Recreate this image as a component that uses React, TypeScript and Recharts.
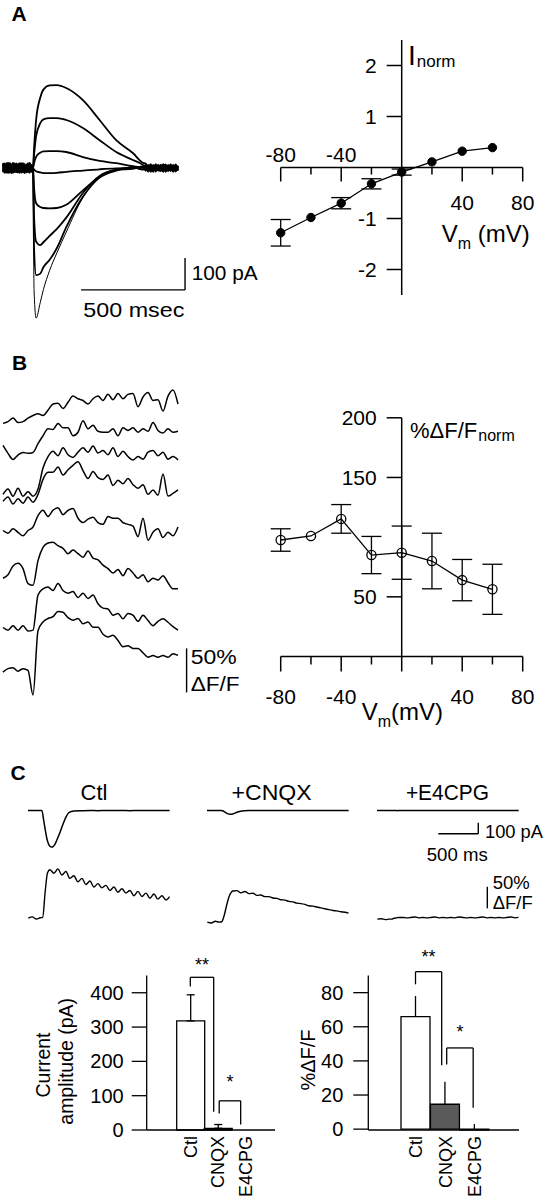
import React from 'react'
import { LineChart, Line, BarChart, Bar, Cell, XAxis, YAxis, ReferenceLine, ReferenceDot, ErrorBar } from 'recharts'

const FONT = '"Liberation Sans", Arial, Helvetica, sans-serif'
const INK = '#000'

// ---------- A: current traces (pA) at 8 holding potentials, time in ms from the stimulus
const tA = [-144,-136,-128,-120,-112,-104,-96,-88,-80,-72,-64,-56,-48,-40,-32,-24,-16,-8,0,
  5,15,35,50,80,115,160,240,320,400,480,530,
  542,554,566,578,590,602,614,626,638,650,662,674,686,697]
const iStep1 = [8,-12,15,-6,10,-16,4,-9,14,-11,6,-15,12,-4,9,-13,16,-7,0,
  60,150,220,245,258,259,250,212,150,87,47,16,
  14,2,12,-4,8,-6,10,-2,7,-9,6,-8,9,-3]
const iStep2 = [-10,14,-5,17,-12,7,-15,11,-3,13,-9,5,-14,10,-6,15,-11,8,0,
  40,100,140,152,156,156,150,125,87,50,25,9,
  2,10,-8,8,-6,10,-5,12,-9,4,-10,8,-6,5]
const iStep3 = [13,-7,-14,9,4,-12,16,-8,-13,7,15,-10,3,-16,11,-5,9,-12,0,
  15,35,48,52,53,53,50,34,22,15,6,2,
  5,-10,4,-7,12,-6,-9,8,-4,10,-7,5,-11,7]
const iStep4 = [-14,9,5,-16,12,3,-10,14,-11,-4,8,15,-7,-13,10,4,-15,6,0,
  -5,-10,-14,-16,-16,-15,-12,-8,-4,-1,0,3,
  -9,6,-12,9,-4,7,-10,3,11,-8,6,-12,4,-5]
const iStep5 = [16,-8,10,12,-14,-5,15,-12,6,-10,-15,8,11,-6,-13,9,14,-9,0,
  -60,-110,-122,-125,-126,-125,-115,-70,-28,-6,2,-4,
  11,-8,6,-12,3,-6,10,-9,5,-4,12,-7,8,-9]
const iStep6 = [-6,13,-11,6,9,-15,-7,11,12,-14,5,-6,15,-9,7,-12,-4,10,0,
  -150,-230,-241,-232,-212,-190,-155,-78,-25,-6,-2,5,
  -5,7,-4,8,-11,6,-3,9,-12,7,-5,10,-8,6]
const iStep7 = [10,-15,7,-11,15,10,-13,5,-9,11,-5,13,-12,8,-14,6,12,-8,0,
  -250,-335,-330,-310,-287,-250,-185,-90,-30,-8,3,-5,
  7,-11,9,-5,10,-8,6,-12,4,-9,8,-4,11,-7]
const iStep8 = [-11,6,-9,14,-5,12,9,-14,7,-8,13,-10,4,15,-12,-6,10,-13,0,
  -380,-469,-420,-380,-320,-265,-200,-92,-28,-5,-3,4,
  -8,10,-6,4,-9,11,-7,5,-10,8,-3,9,-5,4]

// ---------- A/B: I-V and dF/F-V
const vm = [-80,-60,-40,-20,0,20,40,60]
const iNorm = [-1.28,-0.98,-0.7,-0.32,-0.09,0.11,0.32,0.39]
const iNormErr = [0.26,0,0.11,0.1,0.06,0,0,0]
const dfNorm = [97.6,101,115.3,85,87,80,64,56.3]
const dfNormErr = [9.4,0,12,15.6,22.3,23.3,17.3,21]
const ivXTicks = [-80,-60,-40,-20,0,20,40,60,80]
const ivXLabels = [-80,-40,40,80]
const iTicks = [-2,-1,1,2]
const dfTicks = [50,150,200]

// ---------- B: dF/F traces (%), same holding potentials
const tB = [0,25,50,75,100,125,150,175,200,225,250,275,300,325,350,375,400,425,450,475,500,525,550,575,600,625,650,675,700,725,750,775,800,825,850,875]
const dfStep1 = [0,2,6,1,2,6,9,11,9,15,22,23,17,24,31,28,26,22,28,31,26,33,27,34,28,33,34,19,30,35,26,27,14,31,38,22]
const dfStep2 = [0,-9,-16,-11,-8,-9,-8,2,11,19,18,25,20,20,11,15,28,19,23,16,15,15,19,11,20,17,20,15,19,16,26,17,14,19,15,16]
const dfStep3 = [0,6,-2,7,-2,3,-2,6,30,43,49,44,53,45,42,48,53,48,55,47,50,45,53,43,49,43,39,43,40,48,50,44,48,40,43,39]
const dfStep4 = [0,5,-3,3,-2,5,-1,8,25,33,33,39,30,36,41,45,35,26,34,27,25,30,18,24,20,26,19,15,19,8,13,7,31,6,9,13]
const dfStep5 = [1,-2,3,-1,-5,1,5,18,24,17,24,27,19,24,26,15,10,14,16,10,8,17,15,15,10,8,6,-6,15,-10,-1,3,-7,-1,-5,5]
const dfStep6 = [-1,3,13,16,10,-7,-9,19,34,39,40,36,33,27,31,27,23,30,22,20,14,10,5,9,2,10,5,-1,3,-5,-1,-3,2,-6,-13,-13]
const dfStep7 = [1,-2,3,-2,3,-3,-2,38,45,47,43,51,43,40,42,35,40,34,38,28,23,22,15,17,11,17,15,8,15,9,3,8,11,7,2,-2]
const dfStep8 = [-2,2,3,-1,2,0,-28,45,55,59,61,67,66,60,57,59,53,55,49,49,41,38,40,34,27,28,25,25,20,15,17,15,17,15,19,17]

// ---------- C: example traces
const tC = [-174,-120,-60,0,20,40,60,80,100,120,140,160,180,200,230,260,300,340,400,500,600,700,800,900,1000,1100,1200,1300,1400,1500,1597]
const iCtl = [0,1,-1,0,-80,-170,-250,-300,-325,-333,-328,-310,-280,-245,-190,-130,-60,-18,-5,-2,0,-2,1,-1,0,-2,1,-1,0,-1,0]
const iCnqx = [0,-1,1,0,-3,-10,-20,-28,-33,-35,-33,-28,-22,-16,-10,-5,-2,0,1,-1,0,1,-1,0,1,0,-1,1,0,-1,0]
const iE4cpg = [0,1,-1,0,1,-1,0,-2,0,1,0,-1,1,0,-1,1,0,-1,0,1,-1,0,1,0,-1,0,1,-1,0,1,0]
const tF = [-170,-120,-70,-20,10,40,70,100,150,200,250,300,350,400,450,500,550,600,650,700,750,800,850,900,950,1000,1050,1100,1150,1200,1250,1300,1350,1400,1450,1500,1550,1595]
const fCtl = [0,3,-2,1,2,60,105,112,104,114,100,108,92,98,84,92,78,86,72,80,70,76,64,72,60,68,58,64,52,62,50,58,46,56,44,52,42,50]
const fCnqx = [0,-2,2,0,1,15,38,58,72,73,68,71,66,67,62,63,59,59,56,55,52,51,48,47,44,43,41,38,37,35,33,31,29,27,26,24,23,21]
const fE4cpg = [0,1,-1,0,0,2,3,4,4,3,4,5,3,4,3,4,5,3,4,3,4,3,5,4,3,4,3,4,5,3,4,3,4,3,4,5,3,4]

// ---------- C: summary bars
const conds = ['Ctl','CNQX','E4CPG']
const ampCur = [318,5,0]
const ampCurErr = [76,11,0]
const ampDf = [66,14.6,-0.5]
const ampDfErr = [12,13.2,3.5]
const curTicks = [0,100,200,300,400]
const dfBarTicks = [0,20,40,60,80]
// significance brackets, x in category index units
const sigCur = [
  { x1: 0, x2: 0.85, top: 445, y1: 418, y2: 53, star: '**', starY: 493 },
  { x1: 1.05, x2: 1.83, top: 85, y1: 48, y2: 16, star: '*', starY: 150 },
]
const sigDf = [
  { x1: 0, x2: 0.89, top: 92.3, y1: 84.9, y2: 37.5, star: '**', starY: 103 },
  { x1: 1.06, x2: 1.96, top: 47.6, y1: 37.9, y2: 12.6, star: '*', starY: 59 },
]
const barFills = ['#fff', '#5a5a5a', '#5a5a5a']

const rowsA = tA.map((t, i) => ({ t, a1: iStep1[i], a2: iStep2[i], a3: iStep3[i], a4: iStep4[i], a5: iStep5[i], a6: iStep6[i], a7: iStep7[i], a8: iStep8[i] }))
const ivRowsA = vm.map((v, i) => ({ v, m: iNorm[i], e: iNormErr[i] }))
const ivRowsB = vm.map((v, i) => ({ v, m: dfNorm[i], e: dfNormErr[i] }))
const tracesB = [dfStep1, dfStep2, dfStep3, dfStep4, dfStep5, dfStep6, dfStep7, dfStep8]
const baseB = [423, 445, 494, 501, 531, 577, 628, 670]

const xTick = (len: number, label: string | null, labelDy: number) => (p: any) => (
  <g>
    <line x1={p.cx} y1={p.cy} x2={p.cx} y2={p.cy + len} stroke={INK} strokeWidth={1.5} />
    {label !== null && (
      <text x={p.cx} y={p.cy + labelDy} dy="0.36em" textAnchor="middle" fontSize={21} fontFamily={FONT} fill={INK}>{label}</text>
    )}
  </g>
)
const yTick = (label: string) => (p: any) => (
  <g>
    <line x1={p.cx - 15} y1={p.cy} x2={p.cx} y2={p.cy} stroke={INK} strokeWidth={1.5} />
    <text x={p.cx - 25} y={p.cy} dy="0.36em" textAnchor="end" fontSize={21} fontFamily={FONT} fill={INK}>{label}</text>
  </g>
)
const starShape = (s: string) => (p: any) => (
  <text x={p.cx} y={p.cy} dy="0.55em" textAnchor="middle" fontSize={18} fontFamily={FONT} fill={INK}>{s}</text>
)

function IVPlot({ top, height, mTop, mBottom, yDomain, rows, yTicks, zeroTick, majorLen, minorLen, labelDy, filled }: any) {
  return (
    <div style={{ position: 'absolute', left: 260, top }}>
      <LineChart width={286} height={height} data={rows} margin={{ top: mTop, right: 23.3, bottom: mBottom, left: 20.7 }}>
        <XAxis dataKey="v" type="number" domain={[-80, 80]} hide />
        <YAxis type="number" domain={yDomain} hide />
        <ReferenceLine x={0} stroke={INK} strokeWidth={1.5} />
        <ReferenceLine y={0} stroke={INK} strokeWidth={1.5} />
        {ivXTicks.filter((v) => zeroTick || v !== 0).map((v) => (
          <ReferenceDot key={'x' + v} x={v} y={0} ifOverflow="visible"
            shape={xTick(v % 40 === 0 ? majorLen : minorLen, ivXLabels.includes(v) ? String(v) : null, labelDy(v))} />
        ))}
        {yTicks.map((v: number) => (
          <ReferenceDot key={'y' + v} x={0} y={v} ifOverflow="visible" shape={yTick(String(v))} />
        ))}
        <Line dataKey="m" type="linear" stroke={INK} strokeWidth={1.3} isAnimationActive={false}
          dot={filled ? { r: 4.2, fill: INK, stroke: INK, strokeWidth: 1 } : { r: 4.6, fill: 'none', stroke: INK, strokeWidth: 1.3 }}>
          <ErrorBar dataKey="e" width={10} stroke={INK} strokeWidth={1.3} direction="y" isAnimationActive={false} />
        </Line>
      </LineChart>
    </div>
  )
}

function Trace({ x, y, w, h, xDomain, yDomain, rows, keys, widths, lw, children }: any) {
  return (
    <div style={{ position: 'absolute', left: x, top: y }}>
      <LineChart width={w} height={h} data={rows} margin={{ top: 0, right: 0, bottom: 0, left: 0 }}>
        <XAxis dataKey="t" type="number" domain={xDomain} hide />
        <YAxis type="number" domain={yDomain} hide />
        {keys.map((k: string, i: number) => (
          <Line key={k} dataKey={k} type="monotone" stroke={INK} strokeWidth={widths ? widths[i] : lw || 1.4} dot={false} isAnimationActive={false} />
        ))}
        {children}
      </LineChart>
    </div>
  )
}

const CatTick = (p: any) => (
  <text x={p.x} y={p.y} transform={`rotate(-90 ${p.x} ${p.y})`} textAnchor="end" dy="0.36em" fontSize={18} fontFamily={FONT} fill={INK}>
    {p.payload.value}
  </text>
)

function AmpBars({ left, width, mLeft, mRight, padL, padR, nDomain, yMax, ticks, vals, errs, sig, capW, tickMargin }: any) {
  const rows = conds.map((c, i) => ({ c, i, v: vals[i], e: errs[i] ? [0, errs[i]] : null }))
  const seg = { stroke: INK, strokeWidth: 1.3, ifOverflow: 'visible' as const, xAxisId: 'n' }
  return (
    <div style={{ position: 'absolute', left, top: 940 }}>
      <BarChart width={width} height={260} data={rows} barCategoryGap={0} barGap={0}
        margin={{ top: 35.6, right: mRight, bottom: 10, left: mLeft }}>
        <XAxis dataKey="c" type="category" padding={{ left: padL, right: padR }} interval={0} height={60}
          axisLine={{ stroke: INK, strokeWidth: 1.3 }} tickLine={false} tickSize={0} tickMargin={6} tick={<CatTick />} />
        <XAxis xAxisId="n" dataKey="i" type="number" domain={nDomain} hide />
        <YAxis domain={[0, yMax]} ticks={ticks} width={60} tickSize={15} tickMargin={tickMargin}
          axisLine={{ stroke: INK, strokeWidth: 1.3 }} tickLine={{ stroke: INK, strokeWidth: 1.3 }}
          tick={{ fontSize: 20, fill: INK, fontFamily: FONT }} />
        <Bar dataKey="v" stroke={INK} strokeWidth={1.3} isAnimationActive={false}>
          {rows.map((r, i) => <Cell key={r.c} fill={barFills[i]} />)}
          <ErrorBar dataKey="e" width={capW} stroke={INK} strokeWidth={1.3} direction="y" isAnimationActive={false} />
        </Bar>
        {sig.map((b: any, k: number) => (
          <React.Fragment key={k}>
            <ReferenceLine {...seg} segment={[{ x: b.x1, y: b.y1 }, { x: b.x1, y: b.top }]} />
            <ReferenceLine {...seg} segment={[{ x: b.x1, y: b.top }, { x: b.x2, y: b.top }]} />
            <ReferenceLine {...seg} segment={[{ x: b.x2, y: b.top }, { x: b.x2, y: b.y2 }]} />
            <ReferenceDot xAxisId="n" x={(b.x1 + b.x2) / 2} y={b.starY} ifOverflow="visible" shape={starShape(b.star)} />
          </React.Fragment>
        ))}
      </BarChart>
    </div>
  )
}

const T = (props: any) => <text fontFamily={FONT} fill={INK} {...props} />

export default function App() {
  const cur = (arr: number[]) => tC.map((t, i) => ({ t, f: arr[i] }))
  const flu = (arr: number[]) => tF.map((t, i) => ({ t, f: arr[i] }))
  const cLeft = [25.9, 205.2, 375]
  const fBase = [918.3, 921.7, 919]
  const cDom = [-199, 1626]
  return (
    <div style={{ position: 'absolute', left: 0, top: 0, width: 546, height: 1200, background: '#fff', fontFamily: FONT }}>
      {/* A traces */}
      <Trace x={0} y={60} w={200} h={270} xDomain={[-158.65, 802.9]} yDomain={[-506.25, 337.5]} rows={rowsA}
        keys={['a1', 'a2', 'a3', 'a4', 'a5', 'a6', 'a7', 'a8']} widths={[1.8, 1.8, 1.8, 1.8, 1.8, 1.8, 1.8, 1.0]}>
        <ReferenceLine segment={[{ x: 231, y: -381 }, { x: 731, y: -381 }]} stroke={INK} strokeWidth={1.4} />
        <ReferenceLine segment={[{ x: 731, y: -381 }, { x: 731, y: -281 }]} stroke={INK} strokeWidth={1.4} />
      </Trace>
      <IVPlot top={20} height={300} mTop={20} mBottom={25} yDomain={[-2.5, 2.5]} rows={ivRowsA} yTicks={iTicks}
        zeroTick={false} majorLen={14} minorLen={7} labelDy={(v: number) => (v < 0 ? -13 : 35)} filled />

      {/* B traces */}
      {tracesB.map((arr, k) => (
        <Trace key={k} x={0} y={baseB[k] - 70.4} w={190} h={105.6} xDomain={[-15, 935]} yDomain={[-40, 80]}
          rows={tB.map((t, i) => ({ t, f: arr[i] }))} keys={['f']} lw={1.5}>
          {k === 7 && <ReferenceLine segment={[{ x: 918, y: -25 }, { x: 918, y: 25 }]} stroke={INK} strokeWidth={1.4} />}
        </Trace>
      ))}
      <IVPlot top={390} height={330} mTop={27.8} mBottom={63.5} yDomain={[0, 200]} rows={ivRowsB} yTicks={dfTicks}
        zeroTick majorLen={15} minorLen={8} labelDy={() => 39.7} filled={false} />

      {/* C traces */}
      {[iCtl, iCnqx, iE4cpg].map((arr, k) => (
        <Trace key={'c' + k} x={cLeft[k]} y={804.5} w={146} h={46.2} xDomain={cDom} yDomain={[-370, 50]} rows={cur(arr)} keys={['f']} lw={1.5}>
          {k === 2 && <ReferenceLine segment={[{ x: 592, y: -212 }, { x: 1092, y: -212 }]} stroke={INK} strokeWidth={1.4} />}
          {k === 2 && <ReferenceLine segment={[{ x: 1092, y: -212 }, { x: 1092, y: -112 }]} stroke={INK} strokeWidth={1.4} />}
        </Trace>
      ))}
      {[fCtl, fCnqx, fE4cpg].map((arr, k) => (
        <Trace key={'f' + k} x={cLeft[k]} y={fBase[k] - 56.16} w={146} h={64.8} xDomain={cDom} yDomain={[-20, 130]} rows={flu(arr)} keys={['f']} lw={1.4}>
          {k === 2 && <ReferenceLine segment={[{ x: 1205, y: 25 }, { x: 1205, y: 75 }]} stroke={INK} strokeWidth={1.4} />}
        </Trace>
      ))}

      {/* C bars */}
      <AmpBars left={0} width={280} mLeft={86.7} mRight={5} padL={30} padR={15.7} nDomain={[-1.584, 3.077]}
        yMax={450} ticks={curTicks} vals={ampCur} errs={ampCurErr} sig={sigCur} capW={4} tickMargin={8} />
      <AmpBars left={280} width={244} mLeft={28.3} mRight={5} padL={32.7} padR={29.7} nDomain={[-1.604, 3.517]}
        yMax={90} ticks={dfBarTicks} vals={ampDf} errs={ampDfErr} sig={sigDf} capW={0} tickMargin={10} />

      {/* text layer */}
      <svg width={546} height={1200} style={{ position: 'absolute', left: 0, top: 0, pointerEvents: 'none' }}>
        <T x={11.5} y={20.5} fontSize={21} fontWeight="bold">A</T>
        <T x={12} y={370} fontSize={21} fontWeight="bold">B</T>
        <T x={10.5} y={780} fontSize={21} fontWeight="bold">C</T>

        <T x={191.7} y={280} fontSize={21} textLength={66} lengthAdjust="spacingAndGlyphs">100 pA</T>
        <T x={83.3} y={316.7} fontSize={21} textLength={101} lengthAdjust="spacingAndGlyphs">500 msec</T>
        <T x={408} y={65} fontSize={28}>I<tspan fontSize={17} dy={2} dx={1}>norm</tspan></T>
        <T x={441.7} y={241.7} fontSize={24}>V<tspan fontSize={16} dy={7}>m</tspan><tspan dy={-7}> (mV)</tspan></T>

        <T x={190.7} y={663.5} fontSize={20} textLength={46} lengthAdjust="spacingAndGlyphs">50%</T>
        <T x={190.7} y={690.5} fontSize={20} textLength={49} lengthAdjust="spacingAndGlyphs">ΔF/F</T>
        <T x={410} y={438.3} fontSize={22}>%ΔF/F<tspan fontSize={16} dy={3} dx={1}>norm</tspan></T>
        <T x={361.7} y={720} fontSize={24}>V<tspan fontSize={16} dy={7}>m</tspan><tspan dy={-7}>(mV)</tspan></T>

        <T x={94} y={800} fontSize={22} textAnchor="middle">Ctl</T>
        <T x={271.6} y={800} fontSize={22} textAnchor="middle" textLength={80} lengthAdjust="spacingAndGlyphs">+CNQX</T>
        <T x={447.4} y={800} fontSize={22} textAnchor="middle" textLength={83} lengthAdjust="spacingAndGlyphs">+E4CPG</T>
        <T x={485} y={838} fontSize={19} textLength={58} lengthAdjust="spacingAndGlyphs">100 pA</T>
        <T x={426.7} y={860.7} fontSize={19} textLength={61} lengthAdjust="spacingAndGlyphs">500 ms</T>
        <T x={492.7} y={889} fontSize={18} textLength={37} lengthAdjust="spacingAndGlyphs">50%</T>
        <T x={492.7} y={909} fontSize={18} textLength={40} lengthAdjust="spacingAndGlyphs">ΔF/F</T>

        <T x={43.3} y={1065} fontSize={19.5} textAnchor="middle" dominantBaseline="central" transform="rotate(-90 43.3 1065)">Current</T>
        <T x={65.7} y={1061.3} fontSize={19.5} textAnchor="middle" dominantBaseline="central" transform="rotate(-90 65.7 1061.3)">amplitude (pA)</T>
        <T x={308.3} y={1060} fontSize={20} textAnchor="middle" dominantBaseline="central" transform="rotate(-90 308.3 1060)">%ΔF/F</T>
      </svg>
    </div>
  )
}
